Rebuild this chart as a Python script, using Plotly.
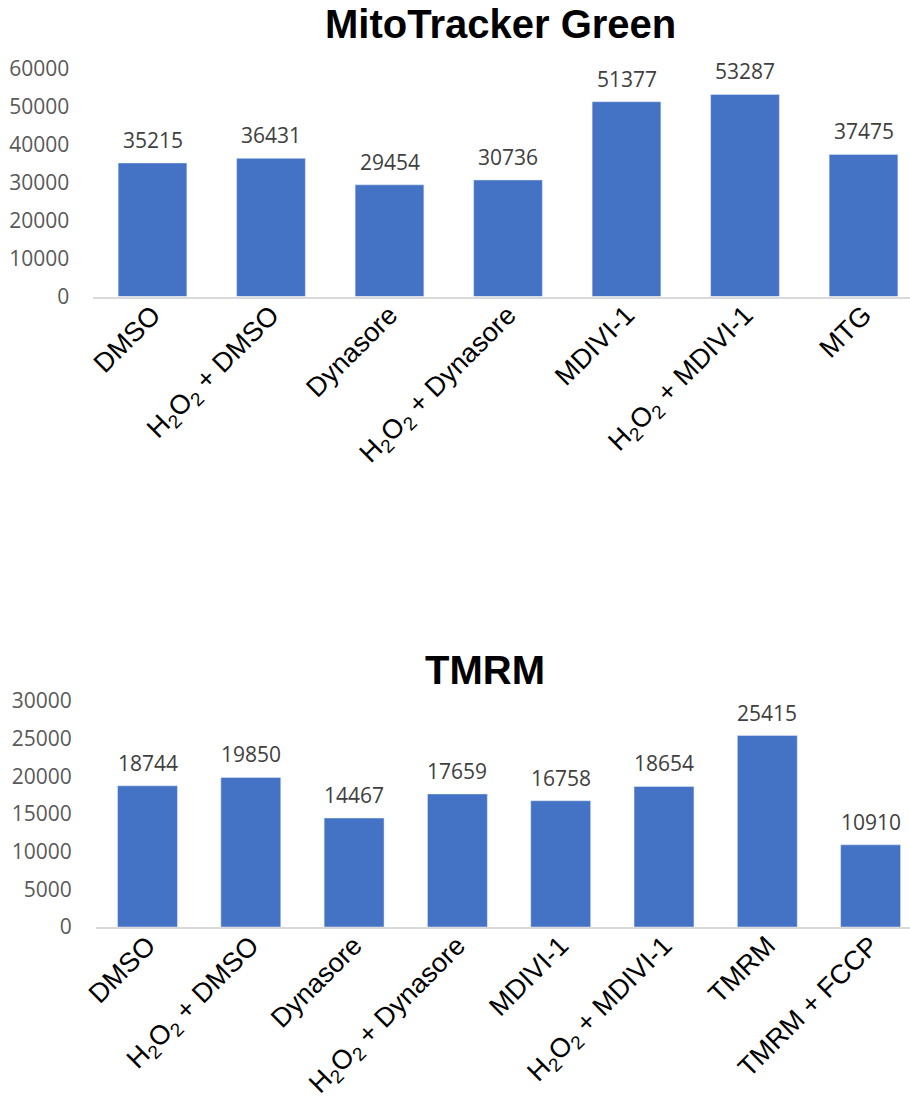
import plotly.graph_objects as go

# ---- data ----
mtg_categories = ["DMSO", "H<sub>2</sub>O<sub>2</sub> + DMSO", "Dynasore",
                  "H<sub>2</sub>O<sub>2</sub> + Dynasore", "MDIVI-1",
                  "H<sub>2</sub>O<sub>2</sub> + MDIVI-1", "MTG"]
mtg_values = [35215, 36431, 29454, 30736, 51377, 53287, 37475]
mtg_ticks = [0, 10000, 20000, 30000, 40000, 50000, 60000]

tmrm_categories = ["DMSO", "H<sub>2</sub>O<sub>2</sub> + DMSO", "Dynasore",
                   "H<sub>2</sub>O<sub>2</sub> + Dynasore", "MDIVI-1",
                   "H<sub>2</sub>O<sub>2</sub> + MDIVI-1", "TMRM", "TMRM + FCCP"]
tmrm_values = [18744, 19850, 14467, 17659, 16758, 18654, 25415, 10910]
tmrm_ticks = [0, 5000, 10000, 15000, 20000, 25000, 30000]

W, H = 910, 1098
BAR = "#4472C4"
TICKFONT = dict(family="Open Sans, Carlito, sans-serif", size=21, color="#595959")
LABFONT = dict(family="Open Sans, Carlito, sans-serif", size=21, color="#404040")
CATFONT = dict(family="Liberation Sans, Arial, sans-serif", size=27, color="black")
TITLEFONT = dict(family="Liberation Sans, Arial, sans-serif", size=40, color="black")

fig = go.Figure()
fig.add_trace(go.Bar(x=mtg_categories, y=mtg_values, marker_color=BAR,
                     xaxis="x", yaxis="y", hoverinfo="x+y"))
fig.add_trace(go.Bar(x=tmrm_categories, y=tmrm_values, marker_color=BAR,
                     xaxis="x2", yaxis="y2", hoverinfo="x+y"))

annotations = []
for c, v in zip(mtg_categories, mtg_values):
    annotations.append(dict(x=c, y=v, xref="x", yref="y", text=str(v),
                            showarrow=False, yanchor="middle", yshift=23,
                            font=LABFONT))
for c, v in zip(tmrm_categories, tmrm_values):
    annotations.append(dict(x=c, y=v, xref="x2", yref="y2", text=str(v),
                            showarrow=False, yanchor="middle", yshift=23,
                            font=LABFONT))
annotations.append(dict(x=500 / W, y=1 - 24 / H, xref="paper", yref="paper",
                        text="<b>MitoTracker Green</b>", showarrow=False,
                        xanchor="center", yanchor="middle", font=TITLEFONT))
annotations.append(dict(x=484.5 / W, y=1 - 670 / H, xref="paper", yref="paper",
                        text="<b>TMRM</b>", showarrow=False,
                        xanchor="center", yanchor="middle", font=TITLEFONT))

common_x = dict(type="category", tickangle=-45, showline=True, linecolor="#d9d9d9",
                linewidth=2, ticks="", tickfont=CATFONT, showgrid=False,
                zeroline=False, fixedrange=True, automargin=False,
                ticklabelstandoff=-10)
common_y = dict(showgrid=False, showline=False, zeroline=False, ticks="",
                tickfont=TICKFONT, ticklabelstandoff=23, fixedrange=True,
                automargin=False)

fig.update_layout(
    width=W, height=H,
    margin=dict(l=0, r=0, t=0, b=0, autoexpand=False),
    paper_bgcolor="white", plot_bgcolor="white",
    showlegend=False,
    bargap=0.42,
    xaxis=dict(common_x, domain=[93.25 / W, 1], anchor="y",
               range=[-0.5, -0.5 + (W - 93.25) / 118.5]),
    yaxis=dict(common_y, domain=[1 - 296.5 / H, 1 - 69 / H], anchor="x",
               range=[0, 60000], tickvals=mtg_ticks,
               ticktext=[str(t) for t in mtg_ticks]),
    xaxis2=dict(common_x, domain=[95.85 / W, 1], anchor="y2",
                range=[-0.5, -0.5 + (W - 95.85) / 103.3]),
    yaxis2=dict(common_y, domain=[1 - 927 / H, 1 - 701 / H], anchor="x2",
                range=[0, 30000], tickvals=tmrm_ticks,
                ticktext=[str(t) for t in tmrm_ticks]),
    annotations=annotations,
)

fig.write_html("out.html")
